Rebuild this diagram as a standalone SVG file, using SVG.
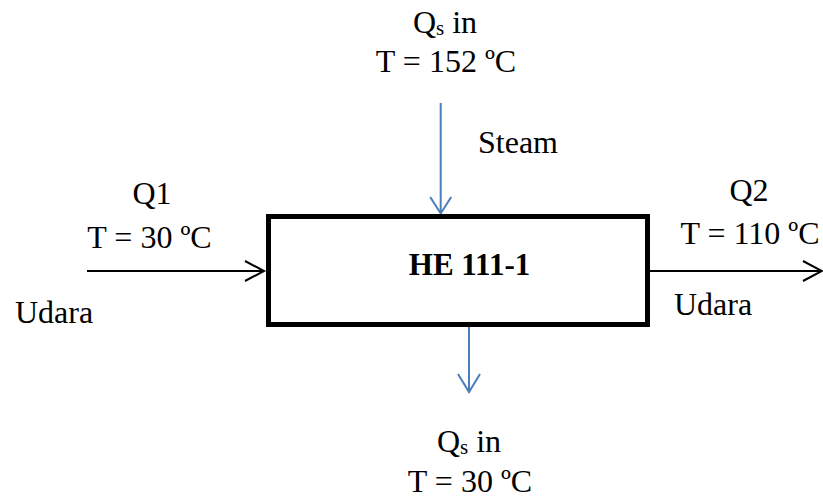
<svg xmlns="http://www.w3.org/2000/svg" width="823" height="500" viewBox="0 0 823 500">
<style>
text{font-family:"Liberation Serif","Times New Roman",serif;font-size:32px;fill:#000}
.c{text-anchor:middle}
.b{font-weight:bold;font-size:31px}
.sub{font-size:21px}
.k{stroke:#000;stroke-width:2;fill:none}
.bl{stroke:#4A7EBB;stroke-width:2;fill:none}
</style>
<rect width="823" height="500" fill="#fff"/>
<g id="connectors">
<path class="k" d="M87 271H263M245 261L264 271L245 281"/>
<path class="k" d="M650 271H821M803 261L822 271L803 281"/>
<path class="bl" d="M440.7 103V213M430.2 197L440.7 213.5L451.2 197"/>
<path class="bl" d="M469 327V391M458 374L469 392L480 374"/>
</g>
<g id="he111">
<rect x="268.5" y="216.5" width="379" height="108" fill="#fff" stroke="#000" stroke-width="5"/>
<text class="c b" x="469.5" y="275">HE 111-1</text>
</g>
<g id="steam-in">
<text class="c" x="445" y="33">Q<tspan class="sub" dy="2">s</tspan><tspan dy="-2"> in</tspan></text>
<text class="c" x="446" y="72">T = 152 ºC</text>
<text x="478" y="153">Steam</text>
</g>
<g id="air-in">
<text class="c" x="152" y="204">Q1</text>
<text class="c" x="149.5" y="248">T = 30 ºC</text>
<text x="15" y="323">Udara</text>
</g>
<g id="air-out">
<text class="c" x="749" y="201">Q2</text>
<text class="c" x="750" y="244">T = 110 ºC</text>
<text x="674" y="315">Udara</text>
</g>
<g id="steam-out">
<text class="c" x="469" y="452">Q<tspan class="sub" dy="2">s</tspan><tspan dy="-2"> in</tspan></text>
<text class="c" x="470" y="492">T = 30 ºC</text>
</g>
</svg>
